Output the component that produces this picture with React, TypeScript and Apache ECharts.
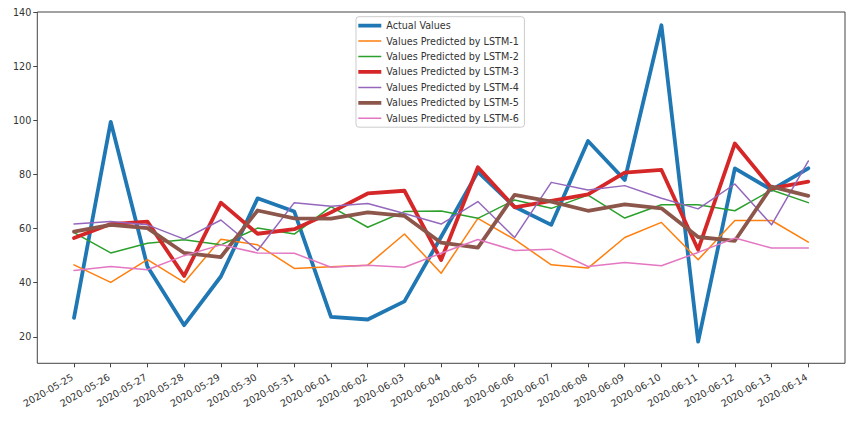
import React, { useEffect, useRef } from "react";
import * as echarts from "echarts";

const dates = [
  "2020-05-25", "2020-05-26", "2020-05-27", "2020-05-28", "2020-05-29", "2020-05-30", "2020-05-31",
  "2020-06-01", "2020-06-02", "2020-06-03", "2020-06-04", "2020-06-05", "2020-06-06", "2020-06-07",
  "2020-06-08", "2020-06-09", "2020-06-10", "2020-06-11", "2020-06-12", "2020-06-13", "2020-06-14",
];

const actualValues = [27, 99.5, 46, 24.3, 42.3, 71.2, 66.3, 27.4, 26.4, 33.1, 57, 81, 68.1, 61.4, 92.4, 78, 135.2, 18.2, 82.3, 74.3, 82.3];
const lstm1 = [46.6, 40.1, 48.5, 40.1, 56.1, 54, 45.3, 45.9, 46.5, 58, 43.5, 63.8, 56, 46.6, 45.4, 56.7, 62.3, 48.5, 63, 63, 55];
const lstm2 = [58.5, 51, 54.6, 55.9, 54, 60.2, 58, 68.1, 60.5, 66.3, 66.5, 63.8, 70.6, 67.5, 72.4, 63.9, 68.8, 68.8, 66.6, 74.3, 69.6];
const lstm3 = [56.5, 61.7, 62.6, 42.5, 69.6, 58.1, 59.8, 66, 73, 74, 48.4, 82.7, 67.9, 70.3, 72.7, 80.7, 81.7, 52.2, 91.5, 74.9, 77.4];
const lstm4 = [61.7, 62.6, 61.4, 56.1, 63.2, 51.9, 69.6, 68.3, 69.3, 65.6, 61.7, 70, 56.7, 77.1, 74.3, 75.9, 71.2, 67.3, 76.5, 61.4, 85];
const lstm5 = [58.9, 61.4, 60.2, 51, 49.5, 66.7, 63.8, 63.7, 66, 64.7, 54.8, 53, 72.5, 70, 66.6, 69, 67.5, 56.9, 55.5, 75.5, 72.1];
const lstm6 = [44.5, 46, 44.8, 50, 54, 51, 50.9, 45.7, 46.5, 45.7, 50.9, 56, 51.9, 52.4, 46, 47.5, 46.3, 51.2, 56.5, 52.8, 52.8];

const yTicks = [20, 40, 60, 80, 100, 120, 140];

const seriesDefs = [
  { name: "Actual Values", values: actualValues, color: "#1f77b4", width: 3.8 },
  { name: "Values Predicted by LSTM-1", values: lstm1, color: "#ff7f0e", width: 1.5 },
  { name: "Values Predicted by LSTM-2", values: lstm2, color: "#2ca02c", width: 1.5 },
  { name: "Values Predicted by LSTM-3", values: lstm3, color: "#d62728", width: 3.8 },
  { name: "Values Predicted by LSTM-4", values: lstm4, color: "#9467bd", width: 1.5 },
  { name: "Values Predicted by LSTM-5", values: lstm5, color: "#8c564b", width: 3.8 },
  { name: "Values Predicted by LSTM-6", values: lstm6, color: "#e377c2", width: 1.5 },
];

const FONT = "DejaVu Sans";
const TEXT = "#333";

// legend handle: a horizontal strip of the given thickness inside a 23x10 box
function handleIcon(w: number) {
  const a = 5 - w / 2;
  const b = 5 + w / 2;
  return `path://M0,0L0,10ZM0,${a}L23,${a}L23,${b}L0,${b}ZM23,0L23,10Z`;
}

export default function App() {
  const ref = useRef<HTMLDivElement>(null);
  useEffect(() => {
    document.body.style.margin = "0";
    if (!ref.current) return;
    const chart = echarts.init(ref.current, null, { renderer: "svg" });
    const xIdx = dates.map((_, i) => i);
    chart.setOption({
      animation: false,
      backgroundColor: "#fff",
      textStyle: { fontFamily: FONT },
      grid: {
        left: 37.3,
        right: 18,
        top: 12,
        bottom: 57.7,
        show: true,
        borderColor: "#444",
        borderWidth: 1,
        containLabel: false,
      },
      legend: {
        orient: "vertical",
        left: 356,
        top: 16.7,
        padding: [3.9, 5.7, 3.9, 2.3],
        itemWidth: 23,
        itemHeight: 10,
        itemGap: 5.45,
        backgroundColor: "#fff",
        borderColor: "#ccc",
        borderWidth: 1,
        borderRadius: 3,
        selectedMode: false,
        itemStyle: { borderWidth: 0 },
        textStyle: { fontFamily: FONT, fontSize: 9.6, color: TEXT },
        data: seriesDefs.map((s) => ({
          name: s.name,
          icon: handleIcon(s.width),
          itemStyle: { color: s.color, borderWidth: 0 },
        })),
      },
      xAxis: {
        type: "value",
        min: -1,
        max: 21,
        axisLine: { show: false, onZero: false },
        splitLine: { show: false },
        axisTick: {
          show: true,
          customValues: xIdx,
          length: 4,
          lineStyle: { color: "#444", width: 1 },
        },
        axisLabel: {
          customValues: xIdx,
          formatter: (v: number) => dates[Math.round(v)] ?? "",
          rotate: 30,
          margin: 12,
          padding: [0, 2, 0, 0],
          fontFamily: FONT,
          fontSize: 9.6,
          color: TEXT,
        },
      },
      yAxis: {
        type: "value",
        min: 10.2,
        max: 140.1,
        axisLine: { show: false, onZero: false },
        splitLine: { show: false },
        axisTick: {
          show: true,
          customValues: yTicks,
          length: 4,
          lineStyle: { color: "#444", width: 1 },
        },
        axisLabel: {
          customValues: yTicks,
          margin: 6,
          fontFamily: FONT,
          fontSize: 9.6,
          color: TEXT,
        },
      },
      series: seriesDefs.map((s) => ({
        name: s.name,
        type: "line",
        symbol: "none",
        showSymbol: false,
        data: s.values.map((v, i) => [i, v]),
        lineStyle: { color: s.color, width: s.width, join: "round", cap: "round" },
        itemStyle: { color: s.color },
        color: s.color,
      })),
    });
    return () => chart.dispose();
  }, []);
  return <div ref={ref} style={{ width: 863, height: 421 }} />;
}
